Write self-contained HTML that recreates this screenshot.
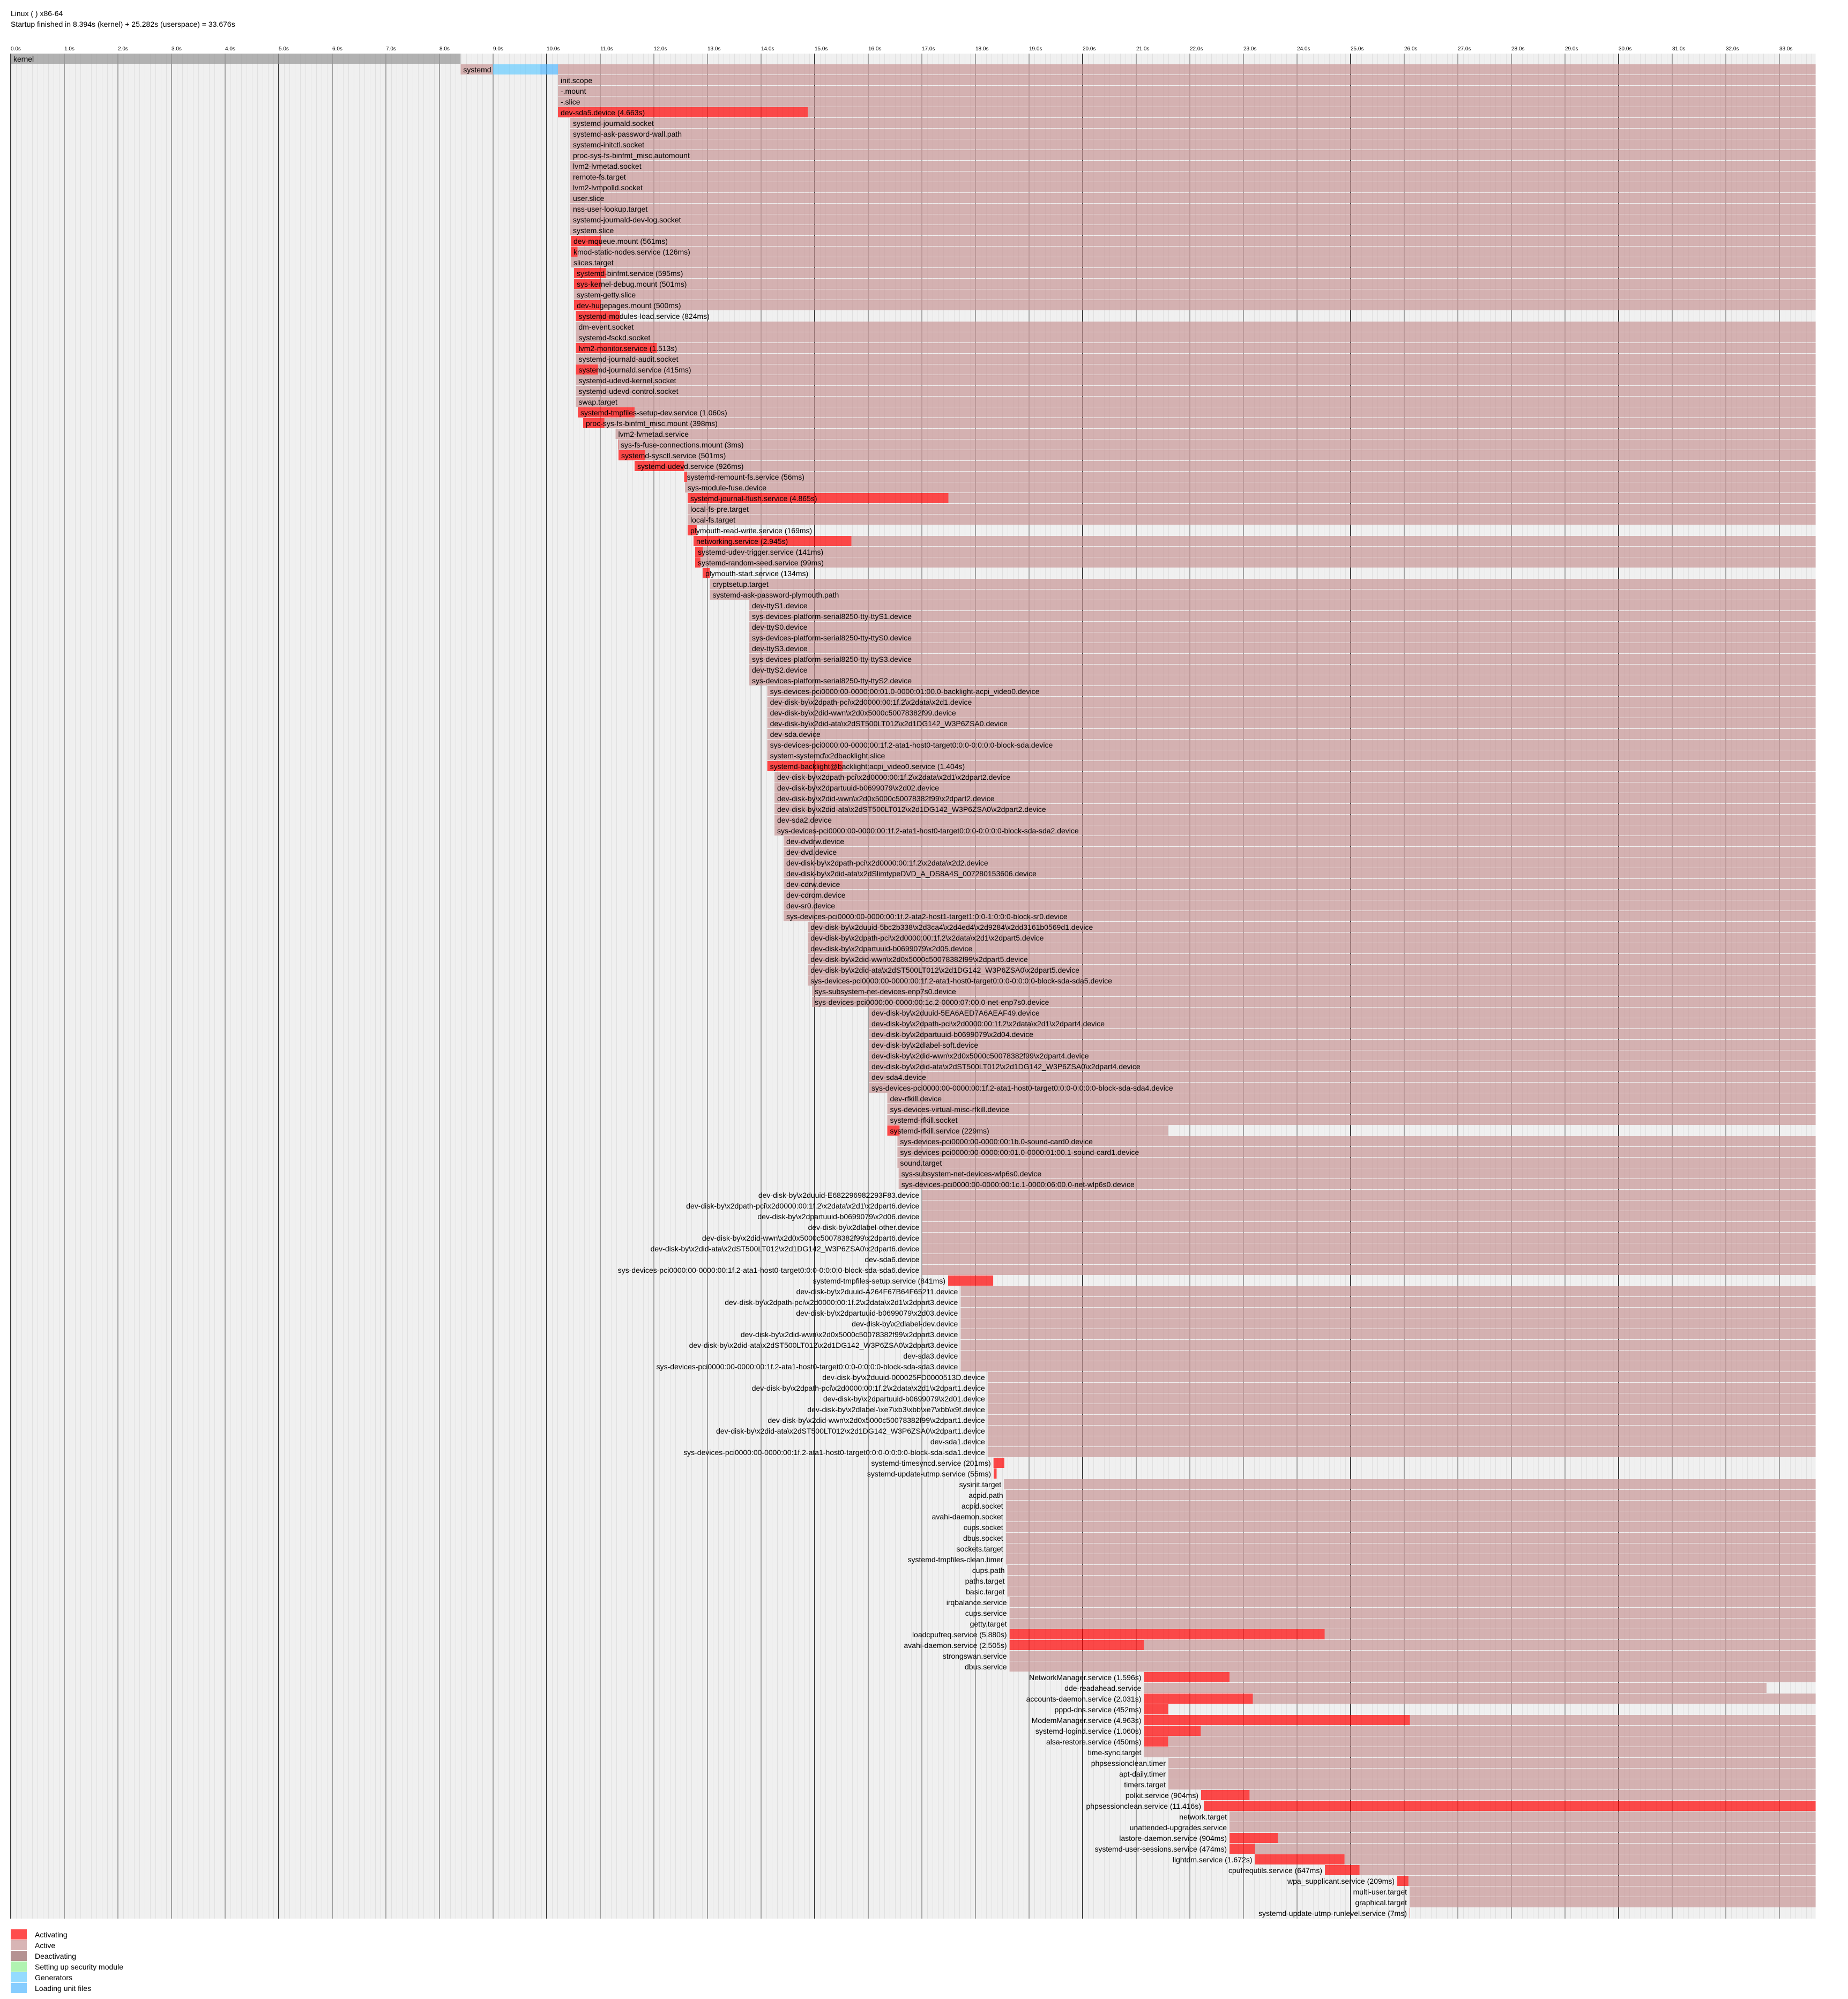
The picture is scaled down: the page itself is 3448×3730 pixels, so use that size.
<!DOCTYPE html>
<html><head><meta charset="utf-8">
<style>
html,body{margin:0;padding:0;background:#fff;}
svg{display:block;}
text{font-family:"Liberation Sans",Helvetica,Arial,sans-serif;font-size:14px;fill:#000;}
text.sec{font-size:10px;}
text.r{text-anchor:end;}
rect.a{fill:rgb(255,0,0);fill-opacity:.7;}
rect.p{fill:rgb(200,150,150);fill-opacity:.7;}
rect.k{fill:rgb(150,150,150);fill-opacity:.7;}
rect.g{fill:rgb(102,204,255);fill-opacity:.7;}
rect.u{fill:rgb(82,184,255);fill-opacity:.7;}
line.s1{stroke:rgb(140,140,140);stroke-width:1.5;}
line.s5{stroke:rgb(64,64,64);stroke-width:2;}
</style></head>
<body>
<svg xmlns="http://www.w3.org/2000/svg" width="3448" height="3730" viewBox="0 0 3448 3730">
<defs>
<pattern id="p01" patternUnits="userSpaceOnUse" x="20" y="0" width="10" height="20">
<rect x="0" y="0" width="10" height="20" fill="rgb(240,240,240)"/>
<line x1="0.5" y1="0" x2="0.5" y2="20" stroke="rgb(224,224,224)" stroke-width="1"/>
</pattern>
</defs>
<rect x="0" y="0" width="3448" height="3730" fill="#fff"/>
<text x="20" y="30">Linux ( ) x86-64</text>
<text x="20" y="50">Startup finished in 8.394s (kernel) + 25.282s (userspace) = 33.676s</text>
<rect x="20" y="100" width="3367.6" height="3480" fill="url(#p01)"/>
<g id="ticks">
<line class="s5" x1="20" y1="100" x2="20" y2="3580"/><text class="sec" x="20" y="94">0.0s</text>
<line class="s1" x1="120" y1="100" x2="120" y2="3580"/><text class="sec" x="120" y="94">1.0s</text>
<line class="s1" x1="220" y1="100" x2="220" y2="3580"/><text class="sec" x="220" y="94">2.0s</text>
<line class="s1" x1="320" y1="100" x2="320" y2="3580"/><text class="sec" x="320" y="94">3.0s</text>
<line class="s1" x1="420" y1="100" x2="420" y2="3580"/><text class="sec" x="420" y="94">4.0s</text>
<line class="s5" x1="520" y1="100" x2="520" y2="3580"/><text class="sec" x="520" y="94">5.0s</text>
<line class="s1" x1="620" y1="100" x2="620" y2="3580"/><text class="sec" x="620" y="94">6.0s</text>
<line class="s1" x1="720" y1="100" x2="720" y2="3580"/><text class="sec" x="720" y="94">7.0s</text>
<line class="s1" x1="820" y1="100" x2="820" y2="3580"/><text class="sec" x="820" y="94">8.0s</text>
<line class="s1" x1="920" y1="100" x2="920" y2="3580"/><text class="sec" x="920" y="94">9.0s</text>
<line class="s5" x1="1020" y1="100" x2="1020" y2="3580"/><text class="sec" x="1020" y="94">10.0s</text>
<line class="s1" x1="1120" y1="100" x2="1120" y2="3580"/><text class="sec" x="1120" y="94">11.0s</text>
<line class="s1" x1="1220" y1="100" x2="1220" y2="3580"/><text class="sec" x="1220" y="94">12.0s</text>
<line class="s1" x1="1320" y1="100" x2="1320" y2="3580"/><text class="sec" x="1320" y="94">13.0s</text>
<line class="s1" x1="1420" y1="100" x2="1420" y2="3580"/><text class="sec" x="1420" y="94">14.0s</text>
<line class="s5" x1="1520" y1="100" x2="1520" y2="3580"/><text class="sec" x="1520" y="94">15.0s</text>
<line class="s1" x1="1620" y1="100" x2="1620" y2="3580"/><text class="sec" x="1620" y="94">16.0s</text>
<line class="s1" x1="1720" y1="100" x2="1720" y2="3580"/><text class="sec" x="1720" y="94">17.0s</text>
<line class="s1" x1="1820" y1="100" x2="1820" y2="3580"/><text class="sec" x="1820" y="94">18.0s</text>
<line class="s1" x1="1920" y1="100" x2="1920" y2="3580"/><text class="sec" x="1920" y="94">19.0s</text>
<line class="s5" x1="2020" y1="100" x2="2020" y2="3580"/><text class="sec" x="2020" y="94">20.0s</text>
<line class="s1" x1="2120" y1="100" x2="2120" y2="3580"/><text class="sec" x="2120" y="94">21.0s</text>
<line class="s1" x1="2220" y1="100" x2="2220" y2="3580"/><text class="sec" x="2220" y="94">22.0s</text>
<line class="s1" x1="2320" y1="100" x2="2320" y2="3580"/><text class="sec" x="2320" y="94">23.0s</text>
<line class="s1" x1="2420" y1="100" x2="2420" y2="3580"/><text class="sec" x="2420" y="94">24.0s</text>
<line class="s5" x1="2520" y1="100" x2="2520" y2="3580"/><text class="sec" x="2520" y="94">25.0s</text>
<line class="s1" x1="2620" y1="100" x2="2620" y2="3580"/><text class="sec" x="2620" y="94">26.0s</text>
<line class="s1" x1="2720" y1="100" x2="2720" y2="3580"/><text class="sec" x="2720" y="94">27.0s</text>
<line class="s1" x1="2820" y1="100" x2="2820" y2="3580"/><text class="sec" x="2820" y="94">28.0s</text>
<line class="s1" x1="2920" y1="100" x2="2920" y2="3580"/><text class="sec" x="2920" y="94">29.0s</text>
<line class="s5" x1="3020" y1="100" x2="3020" y2="3580"/><text class="sec" x="3020" y="94">30.0s</text>
<line class="s1" x1="3120" y1="100" x2="3120" y2="3580"/><text class="sec" x="3120" y="94">31.0s</text>
<line class="s1" x1="3220" y1="100" x2="3220" y2="3580"/><text class="sec" x="3220" y="94">32.0s</text>
<line class="s1" x1="3320" y1="100" x2="3320" y2="3580"/><text class="sec" x="3320" y="94">33.0s</text>
</g>
<g id="rows">
<!-- 0 kernel -->
<rect class="k" x="20" y="100" width="839.4" height="19"/><text x="25" y="115">kernel</text>
<!-- 1 systemd -->
<rect class="p" x="859.4" y="120" width="60.3" height="19"/><rect class="g" x="919.7" y="120" width="88.3" height="19"/><rect class="u" x="1008" y="120" width="33" height="19"/><rect class="p" x="1041" y="120" width="2346.6" height="19"/><text x="864.4" y="135">systemd</text>

<rect class="p" x="1041" y="140" width="2346.6" height="19"/><text x="1046" y="155">init.scope</text>
<rect class="p" x="1041" y="160" width="2346.6" height="19"/><text x="1046" y="175">-.mount</text>
<rect class="p" x="1041" y="180" width="2346.6" height="19"/><text x="1046" y="195">-.slice</text>
<rect class="a" x="1041" y="200" width="466.3" height="19"/><rect class="p" x="1507.3" y="200" width="1880.3" height="19"/><text x="1046" y="215">dev-sda5.device (4.663s)</text>
<rect class="p" x="1064" y="220" width="2323.6" height="19"/><text x="1069" y="235">systemd-journald.socket</text>
<rect class="p" x="1064" y="240" width="2323.6" height="19"/><text x="1069" y="255">systemd-ask-password-wall.path</text>
<rect class="p" x="1064" y="260" width="2323.6" height="19"/><text x="1069" y="275">systemd-initctl.socket</text>
<rect class="p" x="1064" y="280" width="2323.6" height="19"/><text x="1069" y="295">proc-sys-fs-binfmt_misc.automount</text>
<rect class="p" x="1064" y="300" width="2323.6" height="19"/><text x="1069" y="315">lvm2-lvmetad.socket</text>
<rect class="p" x="1064" y="320" width="2323.6" height="19"/><text x="1069" y="335">remote-fs.target</text>
<rect class="p" x="1064" y="340" width="2323.6" height="19"/><text x="1069" y="355">lvm2-lvmpolld.socket</text>
<rect class="p" x="1064" y="360" width="2323.6" height="19"/><text x="1069" y="375">user.slice</text>
<rect class="p" x="1064" y="380" width="2323.6" height="19"/><text x="1069" y="395">nss-user-lookup.target</text>
<rect class="p" x="1064" y="400" width="2323.6" height="19"/><text x="1069" y="415">systemd-journald-dev-log.socket</text>
<rect class="p" x="1064" y="420" width="2323.6" height="19"/><text x="1069" y="435">system.slice</text>
<rect class="a" x="1065" y="440" width="56.1" height="19"/><rect class="p" x="1121.1" y="440" width="2266.5" height="19"/><text x="1070" y="455">dev-mqueue.mount (561ms)</text>
<rect class="a" x="1065" y="460" width="12.6" height="19"/><rect class="p" x="1077.6" y="460" width="2310" height="19"/><text x="1070" y="475">kmod-static-nodes.service (126ms)</text>
<rect class="p" x="1065" y="480" width="2322.6" height="19"/><text x="1070" y="495">slices.target</text>
<rect class="a" x="1071" y="500" width="59.5" height="19"/><rect class="p" x="1130.5" y="500" width="2257.1" height="19"/><text x="1076" y="515">systemd-binfmt.service (595ms)</text>
<rect class="a" x="1071" y="520" width="50.1" height="19"/><rect class="p" x="1121.1" y="520" width="2266.5" height="19"/><text x="1076" y="535">sys-kernel-debug.mount (501ms)</text>
<rect class="p" x="1071" y="540" width="2316.6" height="19"/><text x="1076" y="555">system-getty.slice</text>
<rect class="a" x="1071" y="560" width="50" height="19"/><rect class="p" x="1121" y="560" width="2266.6" height="19"/><text x="1076" y="575">dev-hugepages.mount (500ms)</text>
<rect class="a" x="1074.5" y="580" width="82.4" height="19"/><text x="1079.5" y="595">systemd-modules-load.service (824ms)</text>
<rect class="p" x="1074.5" y="600" width="2313.1" height="19"/><text x="1079.5" y="615">dm-event.socket</text>
<rect class="p" x="1074.5" y="620" width="2313.1" height="19"/><text x="1079.5" y="635">systemd-fsckd.socket</text>
<rect class="a" x="1074.5" y="640" width="151.3" height="19"/><rect class="p" x="1225.8" y="640" width="2161.8" height="19"/><text x="1079.5" y="655">lvm2-monitor.service (1.513s)</text>
<rect class="p" x="1074.5" y="660" width="2313.1" height="19"/><text x="1079.5" y="675">systemd-journald-audit.socket</text>
<rect class="a" x="1074.5" y="680" width="41.5" height="19"/><rect class="p" x="1116" y="680" width="2271.6" height="19"/><text x="1079.5" y="695">systemd-journald.service (415ms)</text>
<rect class="p" x="1074.5" y="700" width="2313.1" height="19"/><text x="1079.5" y="715">systemd-udevd-kernel.socket</text>
<rect class="p" x="1074.5" y="720" width="2313.1" height="19"/><text x="1079.5" y="735">systemd-udevd-control.socket</text>
<rect class="p" x="1074.5" y="740" width="2313.1" height="19"/><text x="1079.5" y="755">swap.target</text>
<rect class="a" x="1078" y="760" width="106" height="19"/><rect class="p" x="1184" y="760" width="2203.6" height="19"/><text x="1083" y="775">systemd-tmpfiles-setup-dev.service (1.060s)</text>
<rect class="a" x="1088" y="780" width="39.8" height="19"/><rect class="p" x="1127.8" y="780" width="2259.8" height="19"/><text x="1093" y="795">proc-sys-fs-binfmt_misc.mount (398ms)</text>
<rect class="p" x="1148.5" y="800" width="2239.1" height="19"/><text x="1153.5" y="815">lvm2-lvmetad.service</text>
<rect class="a" x="1153" y="820" width="0.5" height="19"/><rect class="p" x="1153.5" y="820" width="2234.1" height="19"/><text x="1158" y="835">sys-fs-fuse-connections.mount (3ms)</text>
<rect class="a" x="1154" y="840" width="50.1" height="19"/><rect class="p" x="1204.1" y="840" width="2183.5" height="19"/><text x="1159" y="855">systemd-sysctl.service (501ms)</text>
<rect class="a" x="1184" y="860" width="92.6" height="19"/><rect class="p" x="1276.6" y="860" width="2111" height="19"/><text x="1189" y="875">systemd-udevd.service (926ms)</text>
<rect class="a" x="1276.5" y="880" width="5.6" height="19"/><rect class="p" x="1282.1" y="880" width="2105.5" height="19"/><text x="1281.5" y="895">systemd-remount-fs.service (56ms)</text>
<rect class="p" x="1278" y="900" width="2109.6" height="19"/><text x="1283" y="915">sys-module-fuse.device</text>
<rect class="a" x="1283" y="920" width="486.5" height="19"/><rect class="p" x="1769.5" y="920" width="1618.1" height="19"/><text x="1288" y="935">systemd-journal-flush.service (4.865s)</text>
<rect class="p" x="1283" y="940" width="2104.6" height="19"/><text x="1288" y="955">local-fs-pre.target</text>
<rect class="p" x="1283" y="960" width="2104.6" height="19"/><text x="1288" y="975">local-fs.target</text>
<rect class="a" x="1283" y="980" width="16.9" height="19"/><text x="1288" y="995">plymouth-read-write.service (169ms)</text>
<rect class="a" x="1294" y="1000" width="294.5" height="19"/><rect class="p" x="1588.5" y="1000" width="1799.1" height="19"/><text x="1299" y="1015">networking.service (2.945s)</text>
<rect class="a" x="1297" y="1020" width="14.1" height="19"/><rect class="p" x="1311.1" y="1020" width="2076.5" height="19"/><text x="1302" y="1035">systemd-udev-trigger.service (141ms)</text>
<rect class="a" x="1297" y="1040" width="9.9" height="19"/><rect class="p" x="1306.9" y="1040" width="2080.7" height="19"/><text x="1302" y="1055">systemd-random-seed.service (99ms)</text>
<rect class="a" x="1311" y="1060" width="13.4" height="19"/><text x="1316" y="1075">plymouth-start.service (134ms)</text>
<rect class="p" x="1324.5" y="1080" width="2063.1" height="19"/><text x="1329.5" y="1095">cryptsetup.target</text>
<rect class="p" x="1324.5" y="1100" width="2063.1" height="19"/><text x="1329.5" y="1115">systemd-ask-password-plymouth.path</text>
<rect class="p" x="1398" y="1120" width="1989.6" height="19"/><text x="1403" y="1135">dev-ttyS1.device</text>
<rect class="p" x="1398" y="1140" width="1989.6" height="19"/><text x="1403" y="1155">sys-devices-platform-serial8250-tty-ttyS1.device</text>
<rect class="p" x="1398" y="1160" width="1989.6" height="19"/><text x="1403" y="1175">dev-ttyS0.device</text>
<rect class="p" x="1398" y="1180" width="1989.6" height="19"/><text x="1403" y="1195">sys-devices-platform-serial8250-tty-ttyS0.device</text>
<rect class="p" x="1398" y="1200" width="1989.6" height="19"/><text x="1403" y="1215">dev-ttyS3.device</text>
<rect class="p" x="1398" y="1220" width="1989.6" height="19"/><text x="1403" y="1235">sys-devices-platform-serial8250-tty-ttyS3.device</text>
<rect class="p" x="1398" y="1240" width="1989.6" height="19"/><text x="1403" y="1255">dev-ttyS2.device</text>
<rect class="p" x="1398" y="1260" width="1989.6" height="19"/><text x="1403" y="1275">sys-devices-platform-serial8250-tty-ttyS2.device</text>
<rect class="p" x="1431.6" y="1280" width="1956" height="19"/><text x="1436.6" y="1295">sys-devices-pci0000:00-0000:00:01.0-0000:01:00.0-backlight-acpi_video0.device</text>
<rect class="p" x="1431.6" y="1300" width="1956" height="19"/><text x="1436.6" y="1315">dev-disk-by\x2dpath-pci\x2d0000:00:1f.2\x2data\x2d1.device</text>
<rect class="p" x="1431.6" y="1320" width="1956" height="19"/><text x="1436.6" y="1335">dev-disk-by\x2did-wwn\x2d0x5000c50078382f99.device</text>
<rect class="p" x="1431.6" y="1340" width="1956" height="19"/><text x="1436.6" y="1355">dev-disk-by\x2did-ata\x2dST500LT012\x2d1DG142_W3P6ZSA0.device</text>
<rect class="p" x="1431.6" y="1360" width="1956" height="19"/><text x="1436.6" y="1375">dev-sda.device</text>
<rect class="p" x="1431.6" y="1380" width="1956" height="19"/><text x="1436.6" y="1395">sys-devices-pci0000:00-0000:00:1f.2-ata1-host0-target0:0:0-0:0:0:0-block-sda.device</text>
<rect class="p" x="1431.6" y="1400" width="1956" height="19"/><text x="1436.6" y="1415">system-systemd\x2dbacklight.slice</text>
<rect class="a" x="1431.6" y="1420" width="140.4" height="19"/><rect class="p" x="1572" y="1420" width="1815.6" height="19"/><text x="1436.6" y="1435">systemd-backlight@backlight:acpi_video0.service (1.404s)</text>
<rect class="p" x="1445" y="1440" width="1942.6" height="19"/><text x="1450" y="1455">dev-disk-by\x2dpath-pci\x2d0000:00:1f.2\x2data\x2d1\x2dpart2.device</text>
<rect class="p" x="1445" y="1460" width="1942.6" height="19"/><text x="1450" y="1475">dev-disk-by\x2dpartuuid-b0699079\x2d02.device</text>
<rect class="p" x="1445" y="1480" width="1942.6" height="19"/><text x="1450" y="1495">dev-disk-by\x2did-wwn\x2d0x5000c50078382f99\x2dpart2.device</text>
<rect class="p" x="1445" y="1500" width="1942.6" height="19"/><text x="1450" y="1515">dev-disk-by\x2did-ata\x2dST500LT012\x2d1DG142_W3P6ZSA0\x2dpart2.device</text>
<rect class="p" x="1445" y="1520" width="1942.6" height="19"/><text x="1450" y="1535">dev-sda2.device</text>
<rect class="p" x="1445" y="1540" width="1942.6" height="19"/><text x="1450" y="1555">sys-devices-pci0000:00-0000:00:1f.2-ata1-host0-target0:0:0-0:0:0:0-block-sda-sda2.device</text>
<rect class="p" x="1462" y="1560" width="1925.6" height="19"/><text x="1467" y="1575">dev-dvdrw.device</text>
<rect class="p" x="1462" y="1580" width="1925.6" height="19"/><text x="1467" y="1595">dev-dvd.device</text>
<rect class="p" x="1462" y="1600" width="1925.6" height="19"/><text x="1467" y="1615">dev-disk-by\x2dpath-pci\x2d0000:00:1f.2\x2data\x2d2.device</text>
<rect class="p" x="1462" y="1620" width="1925.6" height="19"/><text x="1467" y="1635">dev-disk-by\x2did-ata\x2dSlimtypeDVD_A_DS8A4S_007280153606.device</text>
<rect class="p" x="1462" y="1640" width="1925.6" height="19"/><text x="1467" y="1655">dev-cdrw.device</text>
<rect class="p" x="1462" y="1660" width="1925.6" height="19"/><text x="1467" y="1675">dev-cdrom.device</text>
<rect class="p" x="1462" y="1680" width="1925.6" height="19"/><text x="1467" y="1695">dev-sr0.device</text>
<rect class="p" x="1462" y="1700" width="1925.6" height="19"/><text x="1467" y="1715">sys-devices-pci0000:00-0000:00:1f.2-ata2-host1-target1:0:0-1:0:0:0-block-sr0.device</text>
<rect class="p" x="1507.3" y="1720" width="1880.3" height="19"/><text x="1512.3" y="1735">dev-disk-by\x2duuid-5bc2b338\x2d3ca4\x2d4ed4\x2d9284\x2dd3161b0569d1.device</text>
<rect class="p" x="1507.3" y="1740" width="1880.3" height="19"/><text x="1512.3" y="1755">dev-disk-by\x2dpath-pci\x2d0000:00:1f.2\x2data\x2d1\x2dpart5.device</text>
<rect class="p" x="1507.3" y="1760" width="1880.3" height="19"/><text x="1512.3" y="1775">dev-disk-by\x2dpartuuid-b0699079\x2d05.device</text>
<rect class="p" x="1507.3" y="1780" width="1880.3" height="19"/><text x="1512.3" y="1795">dev-disk-by\x2did-wwn\x2d0x5000c50078382f99\x2dpart5.device</text>
<rect class="p" x="1507.3" y="1800" width="1880.3" height="19"/><text x="1512.3" y="1815">dev-disk-by\x2did-ata\x2dST500LT012\x2d1DG142_W3P6ZSA0\x2dpart5.device</text>
<rect class="p" x="1507.3" y="1820" width="1880.3" height="19"/><text x="1512.3" y="1835">sys-devices-pci0000:00-0000:00:1f.2-ata1-host0-target0:0:0-0:0:0:0-block-sda-sda5.device</text>
<rect class="p" x="1515" y="1840" width="1872.6" height="19"/><text x="1520" y="1855">sys-subsystem-net-devices-enp7s0.device</text>
<rect class="p" x="1515" y="1860" width="1872.6" height="19"/><text x="1520" y="1875">sys-devices-pci0000:00-0000:00:1c.2-0000:07:00.0-net-enp7s0.device</text>
<rect class="p" x="1621" y="1880" width="1766.6" height="19"/><text x="1626" y="1895">dev-disk-by\x2duuid-5EA6AED7A6AEAF49.device</text>
<rect class="p" x="1621" y="1900" width="1766.6" height="19"/><text x="1626" y="1915">dev-disk-by\x2dpath-pci\x2d0000:00:1f.2\x2data\x2d1\x2dpart4.device</text>
<rect class="p" x="1621" y="1920" width="1766.6" height="19"/><text x="1626" y="1935">dev-disk-by\x2dpartuuid-b0699079\x2d04.device</text>
<rect class="p" x="1621" y="1940" width="1766.6" height="19"/><text x="1626" y="1955">dev-disk-by\x2dlabel-soft.device</text>
<rect class="p" x="1621" y="1960" width="1766.6" height="19"/><text x="1626" y="1975">dev-disk-by\x2did-wwn\x2d0x5000c50078382f99\x2dpart4.device</text>
<rect class="p" x="1621" y="1980" width="1766.6" height="19"/><text x="1626" y="1995">dev-disk-by\x2did-ata\x2dST500LT012\x2d1DG142_W3P6ZSA0\x2dpart4.device</text>
<rect class="p" x="1621" y="2000" width="1766.6" height="19"/><text x="1626" y="2015">dev-sda4.device</text>
<rect class="p" x="1621" y="2020" width="1766.6" height="19"/><text x="1626" y="2035">sys-devices-pci0000:00-0000:00:1f.2-ata1-host0-target0:0:0-0:0:0:0-block-sda-sda4.device</text>
<rect class="p" x="1655.5" y="2040" width="1732.1" height="19"/><text x="1660.5" y="2055">dev-rfkill.device</text>
<rect class="p" x="1655.5" y="2060" width="1732.1" height="19"/><text x="1660.5" y="2075">sys-devices-virtual-misc-rfkill.device</text>
<rect class="p" x="1655.5" y="2080" width="1732.1" height="19"/><text x="1660.5" y="2095">systemd-rfkill.socket</text>
<rect class="a" x="1655.5" y="2100" width="22.9" height="19"/><rect class="p" x="1678.4" y="2100" width="501.2" height="19"/><text x="1660.5" y="2115">systemd-rfkill.service (229ms)</text>
<rect class="p" x="1674.4" y="2120" width="1713.2" height="19"/><text x="1679.4" y="2135">sys-devices-pci0000:00-0000:00:1b.0-sound-card0.device</text>
<rect class="p" x="1674.4" y="2140" width="1713.2" height="19"/><text x="1679.4" y="2155">sys-devices-pci0000:00-0000:00:01.0-0000:01:00.1-sound-card1.device</text>
<rect class="p" x="1674.4" y="2160" width="1713.2" height="19"/><text x="1679.4" y="2175">sound.target</text>
<rect class="p" x="1676.7" y="2180" width="1710.9" height="19"/><text x="1681.7" y="2195">sys-subsystem-net-devices-wlp6s0.device</text>
<rect class="p" x="1676.7" y="2200" width="1710.9" height="19"/><text x="1681.7" y="2215">sys-devices-pci0000:00-0000:00:1c.1-0000:06:00.0-net-wlp6s0.device</text>
<rect class="p" x="1720.3" y="2220" width="1667.3" height="19"/><text class="r" x="1715.3" y="2235">dev-disk-by\x2duuid-E682296982293F83.device</text>
<rect class="p" x="1720.3" y="2240" width="1667.3" height="19"/><text class="r" x="1715.3" y="2255">dev-disk-by\x2dpath-pci\x2d0000:00:1f.2\x2data\x2d1\x2dpart6.device</text>
<rect class="p" x="1720.3" y="2260" width="1667.3" height="19"/><text class="r" x="1715.3" y="2275">dev-disk-by\x2dpartuuid-b0699079\x2d06.device</text>
<rect class="p" x="1720.3" y="2280" width="1667.3" height="19"/><text class="r" x="1715.3" y="2295">dev-disk-by\x2dlabel-other.device</text>
<rect class="p" x="1720.3" y="2300" width="1667.3" height="19"/><text class="r" x="1715.3" y="2315">dev-disk-by\x2did-wwn\x2d0x5000c50078382f99\x2dpart6.device</text>
<rect class="p" x="1720.3" y="2320" width="1667.3" height="19"/><text class="r" x="1715.3" y="2335">dev-disk-by\x2did-ata\x2dST500LT012\x2d1DG142_W3P6ZSA0\x2dpart6.device</text>
<rect class="p" x="1720.3" y="2340" width="1667.3" height="19"/><text class="r" x="1715.3" y="2355">dev-sda6.device</text>
<rect class="p" x="1720.3" y="2360" width="1667.3" height="19"/><text class="r" x="1715.3" y="2375">sys-devices-pci0000:00-0000:00:1f.2-ata1-host0-target0:0:0-0:0:0:0-block-sda-sda6.device</text>
<rect class="a" x="1769" y="2380" width="84.1" height="19"/><text class="r" x="1764" y="2395">systemd-tmpfiles-setup.service (841ms)</text>
<rect class="p" x="1792.3" y="2400" width="1595.3" height="19"/><text class="r" x="1787.3" y="2415">dev-disk-by\x2duuid-A264F67B64F65211.device</text>
<rect class="p" x="1792.3" y="2420" width="1595.3" height="19"/><text class="r" x="1787.3" y="2435">dev-disk-by\x2dpath-pci\x2d0000:00:1f.2\x2data\x2d1\x2dpart3.device</text>
<rect class="p" x="1792.3" y="2440" width="1595.3" height="19"/><text class="r" x="1787.3" y="2455">dev-disk-by\x2dpartuuid-b0699079\x2d03.device</text>
<rect class="p" x="1792.3" y="2460" width="1595.3" height="19"/><text class="r" x="1787.3" y="2475">dev-disk-by\x2dlabel-dev.device</text>
<rect class="p" x="1792.3" y="2480" width="1595.3" height="19"/><text class="r" x="1787.3" y="2495">dev-disk-by\x2did-wwn\x2d0x5000c50078382f99\x2dpart3.device</text>
<rect class="p" x="1792.3" y="2500" width="1595.3" height="19"/><text class="r" x="1787.3" y="2515">dev-disk-by\x2did-ata\x2dST500LT012\x2d1DG142_W3P6ZSA0\x2dpart3.device</text>
<rect class="p" x="1792.3" y="2520" width="1595.3" height="19"/><text class="r" x="1787.3" y="2535">dev-sda3.device</text>
<rect class="p" x="1792.3" y="2540" width="1595.3" height="19"/><text class="r" x="1787.3" y="2555">sys-devices-pci0000:00-0000:00:1f.2-ata1-host0-target0:0:0-0:0:0:0-block-sda-sda3.device</text>
<rect class="p" x="1842.8" y="2560" width="1544.8" height="19"/><text class="r" x="1837.8" y="2575">dev-disk-by\x2duuid-000025FD0000513D.device</text>
<rect class="p" x="1842.8" y="2580" width="1544.8" height="19"/><text class="r" x="1837.8" y="2595">dev-disk-by\x2dpath-pci\x2d0000:00:1f.2\x2data\x2d1\x2dpart1.device</text>
<rect class="p" x="1842.8" y="2600" width="1544.8" height="19"/><text class="r" x="1837.8" y="2615">dev-disk-by\x2dpartuuid-b0699079\x2d01.device</text>
<rect class="p" x="1842.8" y="2620" width="1544.8" height="19"/><text class="r" x="1837.8" y="2635">dev-disk-by\x2dlabel-\xe7\xb3\xbb\xe7\xbb\x9f.device</text>
<rect class="p" x="1842.8" y="2640" width="1544.8" height="19"/><text class="r" x="1837.8" y="2655">dev-disk-by\x2did-wwn\x2d0x5000c50078382f99\x2dpart1.device</text>
<rect class="p" x="1842.8" y="2660" width="1544.8" height="19"/><text class="r" x="1837.8" y="2675">dev-disk-by\x2did-ata\x2dST500LT012\x2d1DG142_W3P6ZSA0\x2dpart1.device</text>
<rect class="p" x="1842.8" y="2680" width="1544.8" height="19"/><text class="r" x="1837.8" y="2695">dev-sda1.device</text>
<rect class="p" x="1842.8" y="2700" width="1544.8" height="19"/><text class="r" x="1837.8" y="2715">sys-devices-pci0000:00-0000:00:1f.2-ata1-host0-target0:0:0-0:0:0:0-block-sda-sda1.device</text>
<rect class="a" x="1853.7" y="2720" width="20.1" height="19"/><text class="r" x="1848.7" y="2735">systemd-timesyncd.service (201ms)</text>
<rect class="a" x="1854" y="2740" width="5.5" height="19"/><text class="r" x="1849" y="2755">systemd-update-utmp.service (55ms)</text>
<rect class="p" x="1873.2" y="2760" width="1514.4" height="19"/><text class="r" x="1868.2" y="2775">sysinit.target</text>
<rect class="p" x="1876.7" y="2780" width="1510.9" height="19"/><text class="r" x="1871.7" y="2795">acpid.path</text>
<rect class="p" x="1876.7" y="2800" width="1510.9" height="19"/><text class="r" x="1871.7" y="2815">acpid.socket</text>
<rect class="p" x="1876.7" y="2820" width="1510.9" height="19"/><text class="r" x="1871.7" y="2835">avahi-daemon.socket</text>
<rect class="p" x="1876.7" y="2840" width="1510.9" height="19"/><text class="r" x="1871.7" y="2855">cups.socket</text>
<rect class="p" x="1876.7" y="2860" width="1510.9" height="19"/><text class="r" x="1871.7" y="2875">dbus.socket</text>
<rect class="p" x="1876.7" y="2880" width="1510.9" height="19"/><text class="r" x="1871.7" y="2895">sockets.target</text>
<rect class="p" x="1876.7" y="2900" width="1510.9" height="19"/><text class="r" x="1871.7" y="2915">systemd-tmpfiles-clean.timer</text>
<rect class="p" x="1879.5" y="2920" width="1508.1" height="19"/><text class="r" x="1874.5" y="2935">cups.path</text>
<rect class="p" x="1879.5" y="2940" width="1508.1" height="19"/><text class="r" x="1874.5" y="2955">paths.target</text>
<rect class="p" x="1879.5" y="2960" width="1508.1" height="19"/><text class="r" x="1874.5" y="2975">basic.target</text>
<rect class="p" x="1883.6" y="2980" width="1504" height="19"/><text class="r" x="1878.6" y="2995">irqbalance.service</text>
<rect class="p" x="1883.6" y="3000" width="1504" height="19"/><text class="r" x="1878.6" y="3015">cups.service</text>
<rect class="p" x="1883.6" y="3020" width="1504" height="19"/><text class="r" x="1878.6" y="3035">getty.target</text>
<rect class="a" x="1883.6" y="3040" width="588" height="19"/><rect class="p" x="2471.6" y="3040" width="916" height="19"/><text class="r" x="1878.6" y="3055">loadcpufreq.service (5.880s)</text>
<rect class="a" x="1883.6" y="3060" width="250.5" height="19"/><rect class="p" x="2134.1" y="3060" width="1253.5" height="19"/><text class="r" x="1878.6" y="3075">avahi-daemon.service (2.505s)</text>
<rect class="p" x="1883.6" y="3080" width="1504" height="19"/><text class="r" x="1878.6" y="3095">strongswan.service</text>
<rect class="p" x="1883.6" y="3100" width="1504" height="19"/><text class="r" x="1878.6" y="3115">dbus.service</text>
<rect class="a" x="2134.4" y="3120" width="159.6" height="19"/><rect class="p" x="2294" y="3120" width="1093.6" height="19"/><text class="r" x="2129.4" y="3135">NetworkManager.service (1.596s)</text>
<rect class="p" x="2134.4" y="3140" width="1161.6" height="19"/><text class="r" x="2129.4" y="3155">dde-readahead.service</text>
<rect class="a" x="2134.4" y="3160" width="203.1" height="19"/><rect class="p" x="2337.5" y="3160" width="1050.1" height="19"/><text class="r" x="2129.4" y="3175">accounts-daemon.service (2.031s)</text>
<rect class="a" x="2134.4" y="3180" width="45.2" height="19"/><text class="r" x="2129.4" y="3195">pppd-dns.service (452ms)</text>
<rect class="a" x="2134.4" y="3200" width="496.3" height="19"/><rect class="p" x="2630.7" y="3200" width="756.9" height="19"/><text class="r" x="2129.4" y="3215">ModemManager.service (4.963s)</text>
<rect class="a" x="2134.4" y="3220" width="106" height="19"/><rect class="p" x="2240.4" y="3220" width="1147.2" height="19"/><text class="r" x="2129.4" y="3235">systemd-logind.service (1.060s)</text>
<rect class="a" x="2134.4" y="3240" width="45" height="19"/><rect class="p" x="2179.4" y="3240" width="1208.2" height="19"/><text class="r" x="2129.4" y="3255">alsa-restore.service (450ms)</text>
<rect class="p" x="2134.4" y="3260" width="1253.2" height="19"/><text class="r" x="2129.4" y="3275">time-sync.target</text>
<rect class="p" x="2180" y="3280" width="1207.6" height="19"/><text class="r" x="2175" y="3295">phpsessionclean.timer</text>
<rect class="p" x="2180" y="3300" width="1207.6" height="19"/><text class="r" x="2175" y="3315">apt-daily.timer</text>
<rect class="p" x="2180" y="3320" width="1207.6" height="19"/><text class="r" x="2175" y="3335">timers.target</text>
<rect class="a" x="2241" y="3340" width="90.4" height="19"/><rect class="p" x="2331.4" y="3340" width="1056.2" height="19"/><text class="r" x="2236" y="3355">polkit.service (904ms)</text>
<rect class="a" x="2246" y="3360" width="1141.6" height="19"/><text class="r" x="2241" y="3375">phpsessionclean.service (11.416s)</text>
<rect class="p" x="2294" y="3380" width="1093.6" height="19"/><text class="r" x="2289" y="3395">network.target</text>
<rect class="p" x="2294" y="3400" width="1093.6" height="19"/><text class="r" x="2289" y="3415">unattended-upgrades.service</text>
<rect class="a" x="2294" y="3420" width="90.4" height="19"/><rect class="p" x="2384.4" y="3420" width="1003.2" height="19"/><text class="r" x="2289" y="3435">lastore-daemon.service (904ms)</text>
<rect class="a" x="2294" y="3440" width="47.4" height="19"/><rect class="p" x="2341.4" y="3440" width="1046.2" height="19"/><text class="r" x="2289" y="3455">systemd-user-sessions.service (474ms)</text>
<rect class="a" x="2341.5" y="3460" width="167.2" height="19"/><rect class="p" x="2508.7" y="3460" width="878.9" height="19"/><text class="r" x="2336.5" y="3475">lightdm.service (1.672s)</text>
<rect class="a" x="2472" y="3480" width="64.7" height="19"/><rect class="p" x="2536.7" y="3480" width="850.9" height="19"/><text class="r" x="2467" y="3495">cpufrequtils.service (647ms)</text>
<rect class="a" x="2607" y="3500" width="20.9" height="19"/><rect class="p" x="2627.9" y="3500" width="759.7" height="19"/><text class="r" x="2602" y="3515">wpa_supplicant.service (209ms)</text>
<rect class="p" x="2630" y="3520" width="757.6" height="19"/><text class="r" x="2625" y="3535">multi-user.target</text>
<rect class="p" x="2630" y="3540" width="757.6" height="19"/><text class="r" x="2625" y="3555">graphical.target</text>
<rect class="a" x="2630" y="3560" width="0.8" height="19"/><text class="r" x="2625" y="3575">systemd-update-utmp-runlevel.service (7ms)</text>
</g>
<g id="legend">
<rect class="a" x="20" y="3600" width="30" height="19"/><text x="65" y="3615">Activating</text>
<rect class="p" x="20" y="3620" width="30" height="19"/><text x="65" y="3635">Active</text>
<rect x="20" y="3640" width="30" height="19" fill="rgb(150,100,100)" fill-opacity="0.7"/><text x="65" y="3655">Deactivating</text>
<rect x="20" y="3660" width="30" height="19" fill="rgb(144,238,144)" fill-opacity="0.7"/><text x="65" y="3675">Setting up security module</text>
<rect class="g" x="20" y="3680" width="30" height="19"/><text x="65" y="3695">Generators</text>
<rect class="u" x="20" y="3700" width="30" height="19"/><text x="65" y="3715">Loading unit files</text>
</g>
</svg>
</body></html>
